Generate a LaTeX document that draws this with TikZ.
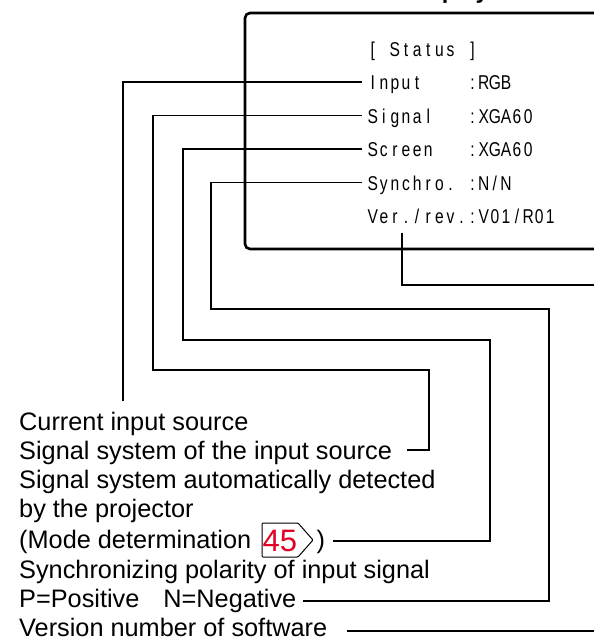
\documentclass[tikz,border=0pt]{standalone}
\usepackage{fontspec}
\setmainfont{Liberation Sans}
\newfontfamily\statfont[FakeStretch=0.78]{Liberation Sans}
\definecolor{refred}{RGB}{225,0,35}
\newlength\monopitch
\setlength\monopitch{11.1pt}
\makeatletter
\newcommand\monotext[1]{\mono@step#1\relax}
\def\mono@step#1{\ifx\relax#1\else\makebox[\monopitch][c]{#1}\expandafter\mono@step\fi}
\makeatother
\begin{document}
\begin{tikzpicture}[x=1pt,y=-1pt,
  conn/.style={line width=1.1pt},
  statlbl/.style={anchor=base west, inner sep=0pt, text height=15pt, text depth=0pt,
    font=\statfont\fontsize{20}{24}\selectfont},
  desc/.style={anchor=base west, inner sep=0pt, font=\fontsize{25.3}{30}\selectfont}]
\useasboundingbox (0,0) rectangle (594,640);

% heading, almost entirely above the picture
\node[anchor=base west, inner sep=0pt, font=\bfseries\fontsize{23.5}{28}\selectfont] (title) at (405,-2) {Display};

% screen frame
\draw[line width=2.6pt, rounded corners=5pt] (245,13) rectangle (660,249);

% status lines
\node[statlbl] (hdr) at (367,56) {\monotext{[~Status~]}};
\node[statlbl] (lblInput) at (367,89.5) {\monotext{Input~~~~:RGB}};
\node[statlbl] (lblSignal) at (367,123) {\monotext{Signal~~~:XGA60}};
\node[statlbl] (lblScreen) at (367,156.5) {\monotext{Screen~~~:XGA60}};
\node[statlbl] (lblSynchro) at (367,190) {\monotext{Synchro.~:N/N}};
\node[statlbl] (lblVer) at (367,223.5) {\monotext{Ver./rev.:V01/R01}};

% descriptions
\node[desc] (dCurrent) at (19,430) {Current input source};
\node[desc] (dSignal) at (19,459) {Signal system of the input source};
\node[desc] (dAuto) at (19,488) {Signal system automatically detected};
\node[desc] (dBy) at (19,517) {by the projector};
\node[desc] (dMode) at (19,548) {(Mode determination};
\draw[line width=1pt, rounded corners=1pt] (262,523) -- (298,523) -- (313,540) -- (298,557) -- (262,557) -- cycle;
\node[anchor=base west, inner sep=0pt, text=refred, font=\fontsize{31}{36}\selectfont] (page) at (262.5,551) {45};
\node[desc] (dClose) at (316.5,548) {)};
\node[desc] (dSync) at (19,578) {Synchronizing polarity of input signal};
\node[desc] (dPN) at (19,607) {P=Positive\hspace{24pt}N=Negative};
\node[desc] (dVer) at (19,636) {Version number of software};

% connector ends
\coordinate (eInput) at (123,401);
\coordinate (eSignal) at (407,450);
\coordinate (eScreen) at (333,541);
\coordinate (eSync) at (303,601);
\coordinate (eVer) at (347,631);

\draw[conn] ([xshift=-5pt]lblInput.west) -| (eInput);
\draw[conn] ([xshift=-5pt]lblSignal.west) -| (153,370) -| (429,450) -- (eSignal);
\draw[conn] ([xshift=-5pt]lblScreen.west) -| (183,340) -| (490,541) -- (eScreen);
\draw[conn] ([xshift=-5pt]lblSynchro.west) -| (211,309) -| (549,601) -- (eSync);
\draw[conn] ([shift={(35pt,-9.5pt)}]lblVer.base west) |- (660,285) |- (eVer);
\end{tikzpicture}
\end{document}
